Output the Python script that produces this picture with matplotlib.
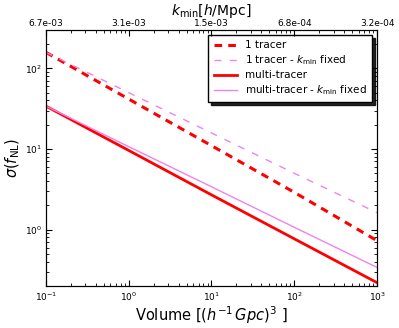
import numpy as np
import matplotlib.pyplot as plt

# Données
volume = [0.1, 1.0, 10.0, 100.0, 1000.0]
sigma_1tracer = [158.0, 41.6, 11.0, 2.9, 0.73]
sigma_1tracer_kfix = [158.0, 50.0, 15.8, 5.0, 1.62]
sigma_multi = [34.0, 9.6, 2.7, 0.77, 0.22]
sigma_multi_kfix = [34.0, 10.7, 3.4, 1.07, 0.34]

kmin_labels = ["6.7e-03", "3.1e-03", "1.5e-03", "6.8e-04", "3.2e-04"]

fig = plt.figure(figsize=(3.99, 3.28), dpi=100)
ax = fig.add_axes([0.115, 0.128, 0.83, 0.781])

ax.loglog(volume, sigma_1tracer, '--', color='r', lw=2.2, dashes=(2.5, 2), label="1 tracer")
ax.loglog(volume, sigma_1tracer_kfix, '--', color='violet', lw=1.0, dashes=(5, 6),
          label=r"1 tracer - $k_{\rm min}$ fixed")
ax.loglog(volume, sigma_multi, '-', color='r', lw=2.0, label="multi-tracer")
ax.loglog(volume, sigma_multi_kfix, '-', color='violet', lw=1.0,
          label=r"multi-tracer - $k_{\rm min}$ fixed")

ax.set_xlim(0.1, 1000)
ax.set_ylim(0.2, 300)
ax.set_xlabel(r"Volume $[(h^{-1}\, Gpc)^3\ ]$", fontsize=10.5, labelpad=1)
ax.set_ylabel(r"$\sigma(f_{\rm NL})$", fontsize=10.5, labelpad=2)
ax.tick_params(which='both', direction='in', right=True, labelsize=6.5, pad=3)
ax.tick_params(which='major', length=4)
ax.tick_params(which='minor', length=2)

# Axe du haut : k_min
ax2 = ax.twiny()
ax2.set_xscale('log')
ax2.set_xlim(ax.get_xlim())
ax2.set_xticks(volume)
ax2.set_xticklabels(kmin_labels)
ax2.tick_params(which='both', direction='in', labelsize=6.5, pad=1)
ax2.tick_params(which='major', length=4)
ax2.tick_params(which='minor', length=2)
ax2.set_xlabel(r"$k_{\rm min} [h/$Mpc$]$", fontsize=10, labelpad=3)

leg = ax.legend(loc='upper right', fontsize=7.5, shadow={'color': 'k', 'alpha': 0.85},
                fancybox=False, handlelength=2.2, borderpad=0.5, labelspacing=0.3)
leg.get_frame().set_edgecolor('black')

fig.savefig("out.png", dpi=100)
